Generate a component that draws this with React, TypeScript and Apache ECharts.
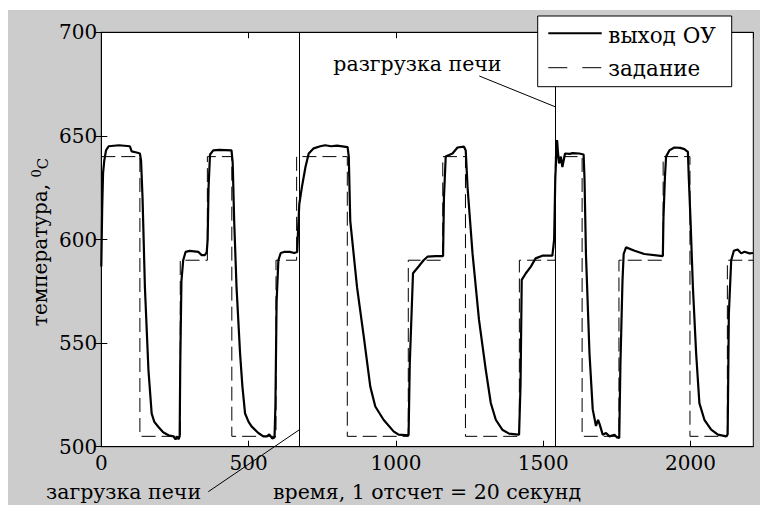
import React, { useEffect, useRef } from "react";
import * as echarts from "echarts";

// setpoint (задание), step profile
const spT = [0, 131, 131, 268, 268, 360, 360, 443, 443, 593, 593, 663, 663, 835, 835, 1042, 1042, 1159, 1159, 1236, 1236, 1419, 1419, 1541, 1541, 1632, 1632, 1757, 1757, 1907, 1907, 1998, 1998, 2125, 2125, 2213];
const spV = [640, 640, 505, 505, 590, 590, 640, 640, 505, 505, 590, 590, 640, 640, 505, 505, 590, 590, 640, 640, 505, 505, 590, 590, 640, 640, 505, 505, 590, 590, 640, 640, 505, 505, 590, 590];

// plant output (выход ОУ)
const outT = [0, 3, 6, 10, 16, 25, 60, 97, 103, 120, 131, 135, 140, 148, 160, 171, 180, 194, 210, 228, 245, 252, 258, 262, 266, 268, 272, 278, 286, 300, 330, 340, 352, 358, 361, 364, 369, 380, 400, 442, 446, 451, 459, 471, 479, 488, 500, 510, 533, 550, 563, 570, 575, 580, 588, 591, 595, 601, 609, 620, 640, 655, 665, 668, 672, 681, 693, 704, 721, 743, 760, 780, 800, 836, 840, 845, 868, 891, 913, 930, 958, 992, 1009, 1043, 1047, 1058, 1077, 1094, 1107, 1135, 1160, 1163, 1169, 1192, 1209, 1231, 1237, 1243, 1260, 1282, 1305, 1322, 1339, 1361, 1384, 1418, 1423, 1427, 1441, 1458, 1474, 1497, 1531, 1537, 1541, 1547, 1550, 1554, 1560, 1565, 1574, 1590, 1600, 1622, 1637, 1640, 1645, 1657, 1668, 1679, 1686, 1691, 1702, 1713, 1725, 1742, 1750, 1758, 1762, 1769, 1773, 1781, 1810, 1843, 1906, 1908, 1913, 1917, 1928, 1945, 1965, 1979, 1991, 1994, 2000, 2008, 2019, 2030, 2047, 2070, 2093, 2121, 2126, 2130, 2138, 2147, 2160, 2172, 2183, 2200, 2212];
const outV = [587, 615, 632, 638, 643, 645, 645.5, 645, 642.5, 642, 641.5, 638, 620, 577, 537, 516, 512, 509.5, 507, 505.5, 505, 503.5, 505, 503.5, 505, 540, 580, 590, 594, 594.5, 594, 592.5, 592.5, 594, 600, 625, 641, 643, 643.3, 643, 637, 609, 577, 545, 529, 516, 512, 509.8, 506.6, 505, 505, 506, 505, 504, 504.5, 520, 570, 590, 593.5, 594, 594, 593.5, 594, 605, 617, 625.4, 635, 641.5, 644, 645, 645.5, 645, 645.3, 644.6, 640, 609, 577, 553, 529, 519.4, 513, 507.4, 505.8, 505.5, 540, 583.7, 587, 590, 591.7, 592, 592, 620, 640, 641.5, 644.4, 644.8, 643, 625.4, 593.3, 561.2, 537.1, 521.1, 513, 508.2, 506.3, 505.8, 530, 580.5, 583.7, 586.9, 590.9, 592.2, 592.2, 600, 630, 648, 642, 636.7, 640, 635, 641.5, 641.3, 641.7, 641.5, 641, 630, 593, 545, 518, 510, 513, 511, 505.8, 506.6, 505, 505.8, 504.5, 504.2, 540, 580, 593, 596.2, 594.6, 593, 592, 610, 630, 640, 643, 644.4, 644.2, 643.6, 642.3, 630, 609, 577, 545, 521, 513, 508.2, 505.8, 505, 506, 564, 590, 594.6, 595.2, 593.3, 594.1, 593.3, 593.5];

const loadMarks = [672, 1541];
const xMin = 0;
const xMax = 2213;
const xStep = 500;
const yMin = 500;
const yMax = 700;
const yStep = 50;

const seriesNames = ["выход ОУ", "задание"];
const yLabelText = "температура, ";
const xLabelText = "время, 1 отсчет = 20 секунд";
const noteLoad = "загрузка печи";
const noteUnload = "разгрузка печи";

export default function App() {
  const ref = useRef<HTMLDivElement>(null);
  useEffect(() => {
    const chart = echarts.init(ref.current!, null, { renderer: "svg" });
    const font = "DejaVu Serif";
    const tickFs = 20;
    const txtFs = 20.5;
    const axisCommon = {
      type: "value" as const,
      axisLine: { show: true, lineStyle: { color: "#000", width: 1 } },
      axisTick: { show: true, inside: true, length: 6, lineStyle: { color: "#000", width: 1 } },
      splitLine: { show: false },
    };
    const plain = (v: number) => String(v);
    const txt = (text: string, x: number, y: number, align: string, z = 100, fs = txtFs) => ({
      type: "text",
      x,
      y,
      z,
      style: { text, fontFamily: font, fontSize: fs, fill: "#000", align, verticalAlign: "middle" },
    });
    const option: any = {
      animation: false,
      backgroundColor: "#cccccc",
      grid: {
        left: 93.3,
        top: 22.3,
        right: 6.7,
        bottom: 58.3,
        show: true,
        backgroundColor: "#ffffff",
        borderColor: "#000",
        borderWidth: 1,
      },
      xAxis: [
        {
          ...axisCommon,
          position: "bottom",
          min: xMin,
          max: xMax,
          interval: xStep,
          axisLabel: { show: true, color: "#000", fontFamily: font, fontSize: tickFs, margin: 6, showMaxLabel: false, formatter: plain },
        },
        {
          ...axisCommon,
          position: "top",
          min: xMin,
          max: xMax,
          interval: xStep,
          axisLabel: { show: false },
        },
      ],
      yAxis: [
        {
          ...axisCommon,
          position: "left",
          min: yMin,
          max: yMax,
          interval: yStep,
          axisLabel: { show: true, color: "#000", fontFamily: font, fontSize: tickFs, margin: 4, formatter: plain },
        },
        {
          ...axisCommon,
          position: "right",
          min: yMin,
          max: yMax,
          interval: yStep,
          axisLabel: { show: false },
        },
      ],
      series: [
        {
          name: seriesNames[1],
          type: "line",
          data: spT.map((t, i) => [t, spV[i]]),
          showSymbol: false,
          symbol: "none",
          lineStyle: { color: "#000", width: 1, type: [14, 6] },
          silent: true,
          markLine: {
            silent: true,
            symbol: "none",
            label: { show: false },
            lineStyle: { color: "#000", width: 1, type: "solid" },
            data: loadMarks.map((v) => ({ xAxis: v })),
          },
        },
        {
          name: seriesNames[0],
          type: "line",
          data: outT.map((t, i) => [t, outV[i]]),
          showSymbol: false,
          symbol: "none",
          lineStyle: { color: "#000", width: 2.2 },
          silent: true,
        },
      ],
      graphic: [
        {
          type: "text",
          x: 32,
          y: 232,
          rotation: Math.PI / 2,
          z: 100,
          style: {
            text: "{a|" + yLabelText + "}{s|0}{c|C}",
            align: "center",
            verticalAlign: "middle",
            fill: "#000",
            fontFamily: font,
            fontSize: 20,
            rich: {
              a: { fontFamily: font, fontSize: 20, fill: "#000", verticalAlign: "bottom" },
              s: { fontFamily: font, fontSize: 13, fill: "#000", verticalAlign: "top" },
              c: { fontFamily: font, fontSize: 15, fill: "#000", verticalAlign: "bottom" },
            },
          },
        },
        txt(xLabelText, 419, 482, "center"),
        txt(noteLoad, 38, 482, "left"),
        {
          type: "line",
          z: 100,
          shape: { x1: 200.3, y1: 481.7, x2: 292, y2: 419.3 },
          style: { stroke: "#000", lineWidth: 1 },
        },
        txt(noteUnload, 325.3, 54, "left"),
        {
          type: "line",
          z: 100,
          shape: { x1: 471.3, y1: 66, x2: 547, y2: 96.7 },
          style: { stroke: "#000", lineWidth: 1 },
        },
        {
          type: "rect",
          z: 100,
          shape: { x: 529.7, y: 6, width: 194, height: 70.7 },
          style: { fill: "#fff", stroke: "#000", lineWidth: 1 },
        },
        {
          type: "line",
          z: 101,
          shape: { x1: 540.3, y1: 23.3, x2: 593.7, y2: 23.3 },
          style: { stroke: "#000", lineWidth: 2 },
        },
        {
          type: "line",
          z: 101,
          shape: { x1: 540.3, y1: 57.7, x2: 593.7, y2: 57.7 },
          style: { stroke: "#000", lineWidth: 1, lineDash: [19, 15] },
        },
        txt(seriesNames[0], 600.3, 25.5, "left", 101, 21.5),
        txt(seriesNames[1], 600.3, 58.5, "left", 101, 21.5),
      ],
    };
    chart.setOption(option);
    return () => chart.dispose();
  }, []);
  return <div ref={ref} style={{ position: "fixed", left: 8, top: 10, width: 752, height: 495 }} />;
}
